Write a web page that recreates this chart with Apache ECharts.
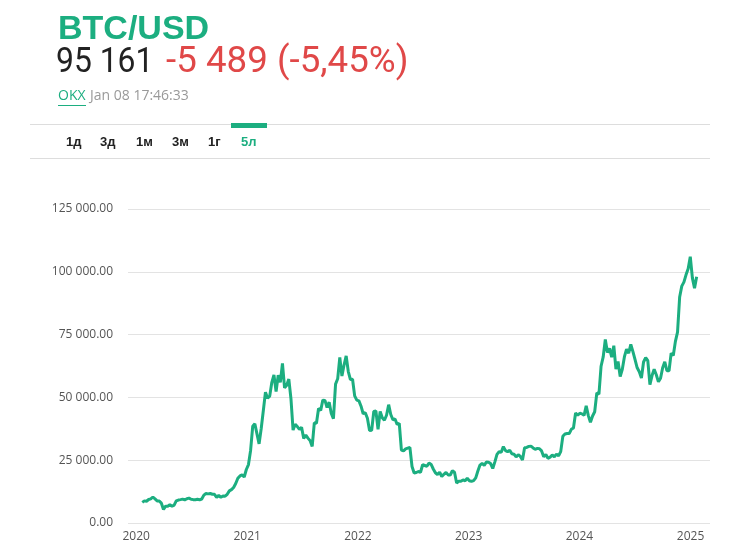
<!DOCTYPE html>
<html><head><meta charset="utf-8">
<script src="https://cdn.jsdelivr.net/npm/echarts@6/dist/echarts.min.js"></script>
<style>html,body{margin:0;padding:0;background:#fff}#c{width:749px;height:555px}</style>
</head><body><div id="c"></div>
<script>
// Weekly BTC/USD values, each year block starts on its first week date
const startDates = ['2020-01-08','2021-01-06','2022-01-05','2023-01-04','2024-01-03','2025-01-01'];
const y2020 = [8200,8800,8650,9350, 9600,10350,9600,8800, 8750,7900,5400,6700, 6650,7300,6650,7130,8800,
  9150,9300,9500,9200, 9650,9900,9450,9300, 9230,9430,9200,9550,11100, 11750,11600,11750,11450,
  11400,10250,10950,10250,10780, 10670,11430,12800,13300, 14150,15700,17800,18750, 19150,18300,21300,23250,28900];
const y2021 = [38500,39500,35500,31500, 37600,44800,52100,49700, 50500,56000,58900,52300,58800,
  56000,63500,53800,54800, 57300,49500,37000,39300, 38400,37300,38100,33700,35000,
  33800,32800,30500,39900, 39700,45600,44800,48900, 48800,46000,48100,43600,41500,
  55300,57400,65900,58500, 62900,66500,60300,57100, 57200,50600,48900,48600,46500];
const y2022 = [43500,43900,41700,36800, 36900,44400,44600,37300, 44400,41900,40900,42900,47100,
  43200,41100,41400,39200, 39700,29000,28700,29500, 29800,30100,22500,19900,20100,
  20500,20200,23200,22900, 22600,23900,23300,21500,20000, 19300,20200,18500,19400,
  20150,19150,19100,20800, 20200,15900,16650,16600,17150, 16830,17800,16820,16550];
const y2023 = [16850,17950,20700,23050, 23700,22950,24300,24200, 23650,21700,24350,27300,28350,
  28170,30400,28800,28400, 29000,27600,27400,26300,27200, 26500,25100,30000,30100,
  30500,30600,29900,29350, 29700,29550,28700,26400,27300, 25750,26200,27100,26350,
  27400,26750,28400,34500, 35400,35600,35600,37300,37850, 43800,42900,43700,43450];
const y2024 = [42850,46600,42750,40100,42600, 44300,51800,51300,62400, 66100,73100,67900,69500,
  66000,70600,61300,64300, 58300,61200,66200,69200,67600, 71100,68200,65000,61800,
  60200,57700,64100,65800,64600, 55100,58700,61200,59000, 56200,57600,61800,64200,
  60600,60600,67600,66700,72300, 76000,90000,94300,95900, 98800,101200,106000,97500];
const y2025 = [93500,98000];
const yearBlocks = [y2020,y2021,y2022,y2023,y2024,y2025];
const yTicks = [0,25000,50000,75000,100000,125000];
const xYearLabels = ['2020','2021','2022','2023','2024','2025'];

const DAY = 86400000;
const seriesData = [];
yearBlocks.forEach((vals, b) => {
  const t0 = Date.parse(startDates[b] + 'T00:00:00Z');
  vals.forEach((v, i) => seriesData.push([t0 + i * 7 * DAY, v]));
});
const yearTimes = xYearLabels.map(y => Date.parse(y + '-01-01T00:00:00Z'));

const green = '#1cae80';
const chart = echarts.init(document.getElementById('c'), null, {renderer: 'canvas'});
function fmt(v){ return v.toFixed(2).replace(/\B(?=(\d{3})+(?!\d))/g, ' '); }
chart.setOption({
  animation: false,
  backgroundColor: '#fff',
  grid: {left: 128, right: 39, top: 209, bottom: 32},
  xAxis: {
    type: 'value',
    min: Date.parse('2019-11-22T00:00:00Z'),
    max: Date.parse('2025-02-21T00:00:00Z'),
    axisLine: {show: false}, axisTick: {show: false}, splitLine: {show: false},
    axisLabel: {
      customValues: yearTimes,
      formatter: v => String(new Date(v).getUTCFullYear()),
      color: '#555', fontSize: 12, fontFamily: 'Open Sans', margin: 8, padding: [0, 8, 0, 0], hideOverlap: false
    }
  },
  yAxis: {
    type: 'value', min: 0, max: 125000, interval: 25000,
    axisLine: {show: false}, axisTick: {show: false},
    splitLine: {lineStyle: {color: '#e3e3e3', width: 1}},
    axisLabel: {formatter: fmt, color: '#555', fontSize: 12, fontFamily: 'Open Sans', margin: 15}
  },
  series: [{
    type: 'line', data: seriesData, showSymbol: false, smooth: false,
    lineStyle: {color: green, width: 3}, itemStyle: {color: green}
  }],
  graphic: [
    {type: 'text', x: 58, y: 13, style: {text: 'BTC/USD', font: 'bold 34px "Liberation Sans"', fill: green, verticalAlign: 'top'}},
    {type: 'text', x: 56, y: 46, scaleX: 0.91, style: {text: '95 161', font: '35px Roboto', fill: '#222', verticalAlign: 'top'}},
    {type: 'text', x: 166, y: 45, scaleX: 1.02, style: {text: '-5 489 (-5,45%)', font: '36px Roboto', fill: '#e04848', verticalAlign: 'top'}},
    {type: 'text', x: 58, y: 89, style: {text: 'OKX', font: '14px "Open Sans"', fill: green, verticalAlign: 'top'}},
    {type: 'rect', shape: {x: 58, y: 105, width: 28, height: 1}, style: {fill: green}},
    {type: 'text', x: 90, y: 89, style: {text: 'Jan 08 17:46:33', font: '14px "Open Sans"', fill: '#999', verticalAlign: 'top'}},
    {type: 'rect', shape: {x: 30, y: 124, width: 680, height: 1}, style: {fill: '#ddd'}},
    {type: 'rect', shape: {x: 30, y: 158, width: 680, height: 1}, style: {fill: '#ddd'}},
    {type: 'rect', shape: {x: 231, y: 123, width: 36, height: 5}, style: {fill: green}},
    {type: 'text', x: 66, y: 136, style: {text: '1д', font: 'bold 13px "Liberation Sans"', fill: '#222', verticalAlign: 'top'}},
    {type: 'text', x: 100, y: 136, style: {text: '3д', font: 'bold 13px "Liberation Sans"', fill: '#222', verticalAlign: 'top'}},
    {type: 'text', x: 136, y: 136, style: {text: '1м', font: 'bold 13px "Liberation Sans"', fill: '#222', verticalAlign: 'top'}},
    {type: 'text', x: 172, y: 136, style: {text: '3м', font: 'bold 13px "Liberation Sans"', fill: '#222', verticalAlign: 'top'}},
    {type: 'text', x: 208, y: 136, style: {text: '1г', font: 'bold 13px "Liberation Sans"', fill: '#222', verticalAlign: 'top'}},
    {type: 'text', x: 241, y: 136, style: {text: '5л', font: 'bold 13px "Liberation Sans"', fill: green, verticalAlign: 'top'}}
  ]
});
</script></body></html>
